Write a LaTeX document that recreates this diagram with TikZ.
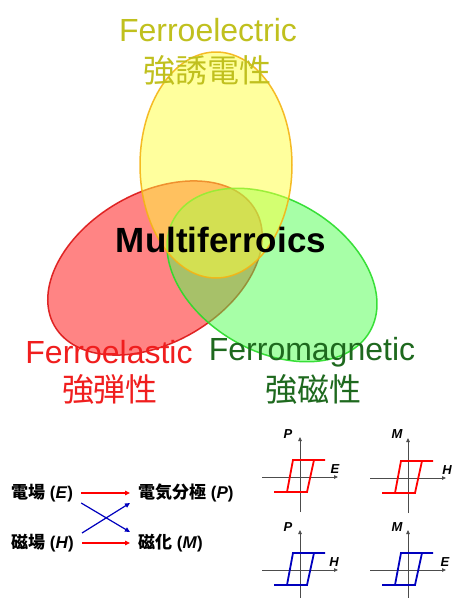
\documentclass[tikz,border=0pt]{standalone}
\usepackage{fontspec}
\setmainfont{Liberation Sans}
\newfontfamily\cjk{Noto Sans CJK JP}
\usetikzlibrary{arrows.meta}
\definecolor{fecol}{RGB}{192,192,30}
\definecolor{elcol}{RGB}{240,30,30}
\definecolor{mgcol}{RGB}{30,105,30}
\definecolor{yelF}{RGB}{255,255,60}
\definecolor{yelD}{RGB}{245,180,20}
\definecolor{redF}{RGB}{255,10,10}
\definecolor{redD}{RGB}{220,20,20}
\definecolor{grnF}{RGB}{80,255,80}
\definecolor{grnD}{RGB}{40,220,40}
\definecolor{axcol}{RGB}{90,90,90}
\definecolor{hblue}{RGB}{0,0,190}
\definecolor{hred}{RGB}{255,0,0}
\tikzset{
  venn/.style={line width=1.5pt, fill opacity=0.5, draw opacity=0.9},
  bigtxt/.style={font=\fontsize{32}{34}\selectfont, inner sep=0pt},
  midtxt/.style={font=\fontsize{17}{19}\selectfont\bfseries, inner sep=0pt, anchor=west},
  axlbl/.style={font=\fontsize{13}{15}\selectfont\bfseries\itshape, inner sep=0pt},
  conn/.style={line width=1.2pt, -{Triangle[length=5pt,width=4.5pt]}},
  axisln/.style={axcol, line width=0.8pt},
  pics/hyst/.style={code={
    \draw[axisln, -{Triangle[length=4pt,width=3.5pt]}, black!70] (-38,0) -- (38,0);
    \draw[axisln, -{Triangle[length=4pt,width=3.5pt]}, black!70] (0,35) -- (0,-40);
    \draw[#1, line width=1.8pt] (-13,15) -- (-7,-17) -- (25,-17);
    \draw[#1, line width=1.8pt] (-26,15) -- (7,15) -- (14,-17);
  }}
}
\begin{document}
\begin{tikzpicture}[x=1pt,y=-1pt]
\useasboundingbox (0,0) rectangle (452,598);
\fill[white] (0,0) rectangle (452,598);

% Venn ellipses
\draw[venn, draw=redD, fill=redF, rotate around={30:(155,268)}] (155,268) ellipse [x radius=116, y radius=75];
\draw[venn, draw=grnD, fill=grnF, rotate around={-30:(272,275)}] (272,275) ellipse [x radius=113, y radius=76];
\draw[venn, draw=yelD, fill=yelF] (216,165) ellipse [x radius=76, y radius=113];

% labels
\node[bigtxt, text=fecol] (fe) at (208,30) {Ferroelectric};
\node[bigtxt, text=fecol] (fej) at (207,70) {\cjk 強誘電性};
\node[bigtxt, text=elcol] (el) at (109,352) {Ferroelastic};
\node[bigtxt, text=elcol] (elj) at (110,389) {\cjk 強弾性};
\node[bigtxt, text=mgcol] (mg) at (312,352) {Ferromagnetic};
\node[bigtxt, text=mgcol] (mgj) at (313,389) {\cjk 強磁性};
\node[font=\fontsize{35}{37}\selectfont\bfseries, inner sep=0pt] (mf) at (221,240) {Multiferroics};

% field -> property relations
\node[midtxt] (E) at (11,493) {{\cjk\bfseries 電場} (\textit{E})};
\node[midtxt] (H) at (11,543) {{\cjk\bfseries 磁場} (\textit{H})};
\node[midtxt] (P) at (138,493) {{\cjk\bfseries 電気分極} (\textit{P})};
\node[midtxt] (M) at (138,543) {{\cjk\bfseries 磁化} (\textit{M})};
\draw[conn, hred] ([xshift=8pt]E.east) -- ([xshift=-8pt]P.west);
\draw[conn, hred] ([xshift=8pt]H.east) -- ([xshift=-8pt]M.west);
\draw[conn, hblue] ([xshift=8pt,yshift=-10pt]E.east) -- ([xshift=-8pt,yshift=11pt]M.west);
\draw[conn, hblue] ([xshift=8pt,yshift=10pt]H.east) -- ([xshift=-8pt,yshift=-10pt]P.west);

% hysteresis loops
\pic at (300,477) {hyst=hred};
\pic at (408,478) {hyst=hred};
\pic at (300,570) {hyst=hblue};
\pic at (408,570) {hyst=hblue};
\node[axlbl] (l1v) at (288,434) {P};
\node[axlbl] (l1h) at (335,469) {E};
\node[axlbl] (l2v) at (397,434) {M};
\node[axlbl] (l2h) at (447,470) {H};
\node[axlbl] (l3v) at (288,527) {P};
\node[axlbl] (l3h) at (334,562) {H};
\node[axlbl] (l4v) at (397,527) {M};
\node[axlbl] (l4h) at (445,562) {E};
\end{tikzpicture}
\end{document}
